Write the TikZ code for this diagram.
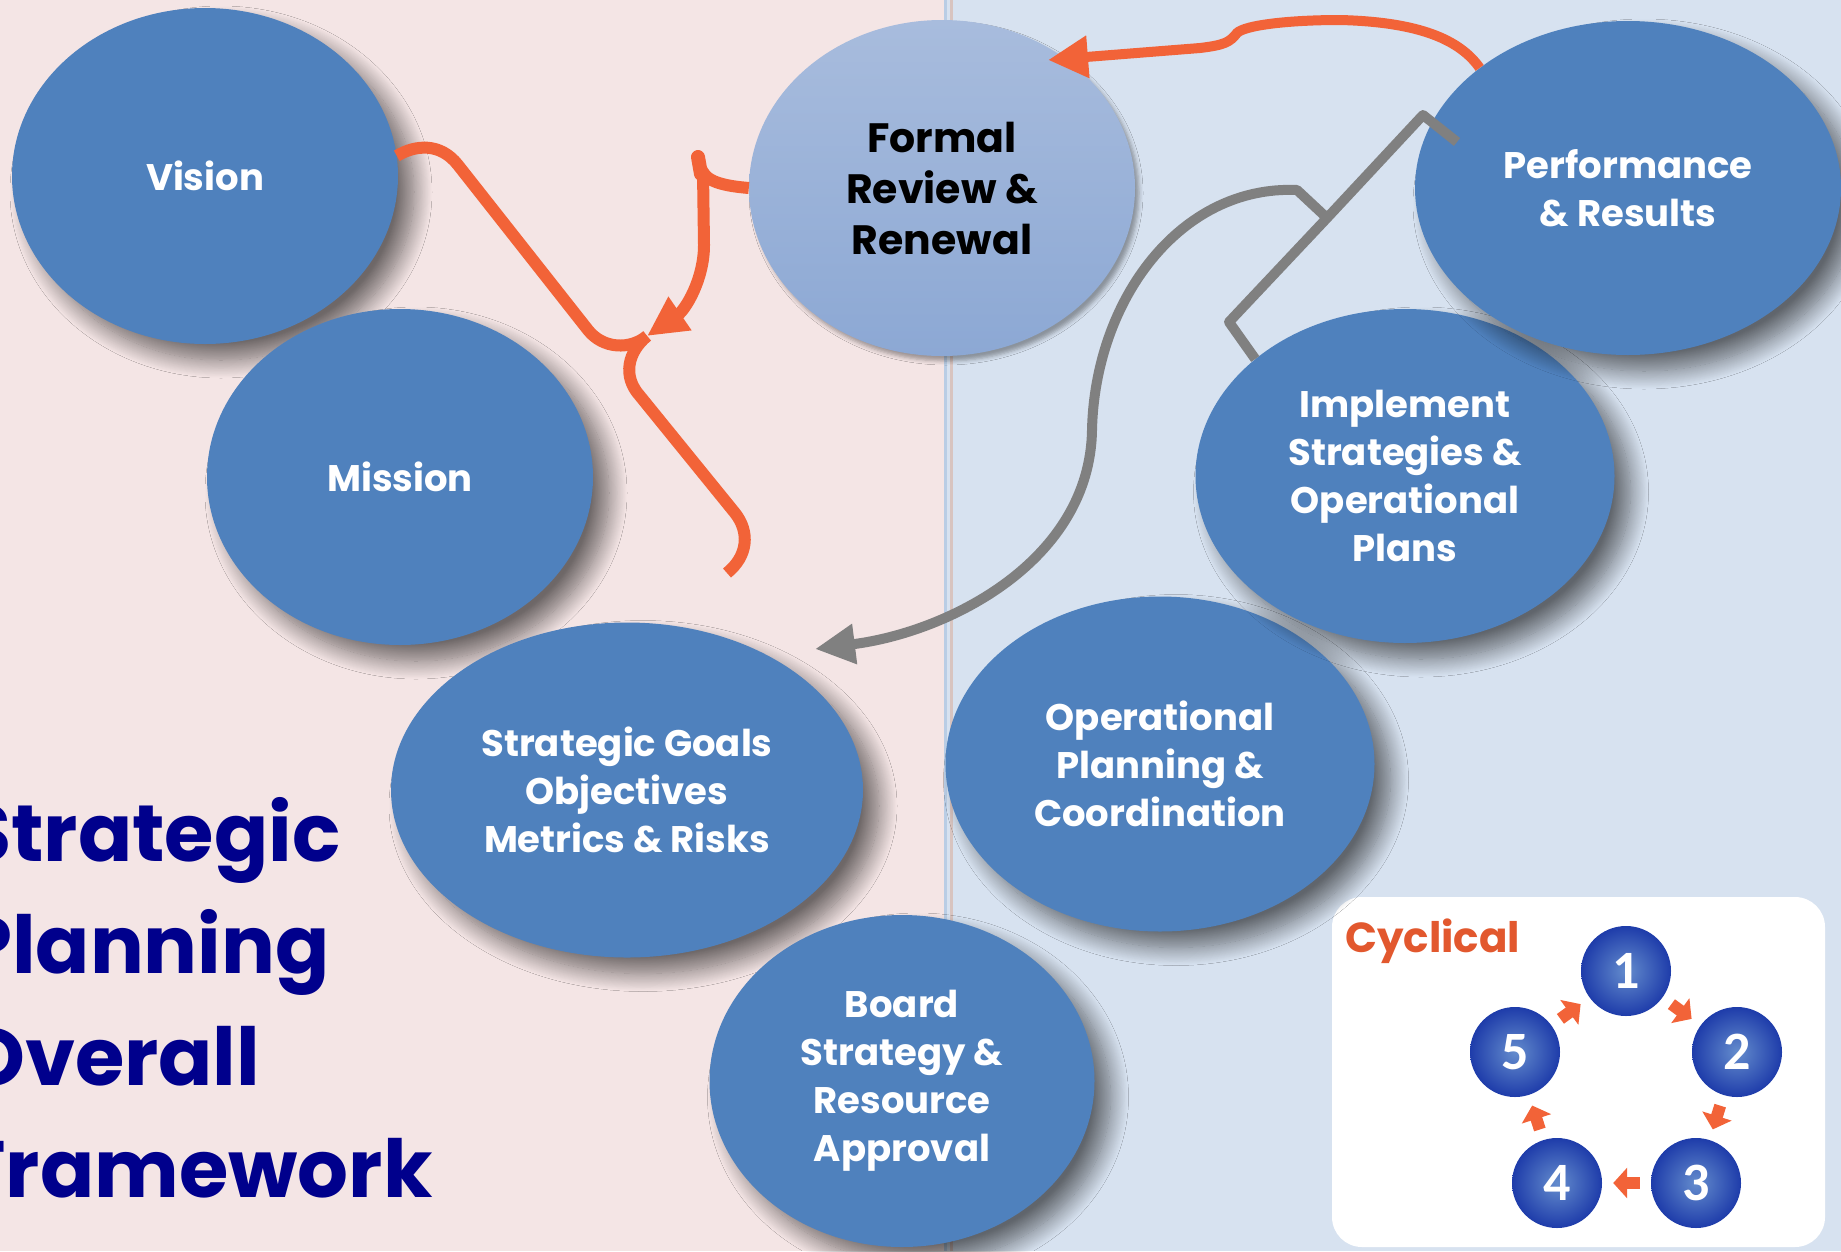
\documentclass[tikz,border=0pt]{standalone}
\usepackage{fontspec}
\newfontfamily\pop{Poppins}
\newfontfamily\carl{Carlito}
\usetikzlibrary{shapes.geometric,arrows.meta,shadows.blur,calc}
\definecolor{bgpink}{RGB}{244,229,229}
\definecolor{bgblue}{RGB}{215,226,240}
\definecolor{divblue}{RGB}{185,205,229}
\definecolor{divtan}{RGB}{216,196,192}
\definecolor{bblue}{RGB}{79,129,189}
\definecolor{fTop}{RGB}{168,188,221}
\definecolor{fBot}{RGB}{140,168,212}
\definecolor{corange}{RGB}{242,99,56}
\definecolor{cgray}{RGB}{128,128,128}
\definecolor{navy}{RGB}{0,0,140}
\definecolor{cycor}{RGB}{226,88,46}
\definecolor{ballin}{RGB}{100,140,205}
\definecolor{ballout}{RGB}{30,60,170}
\begin{document}
\begin{tikzpicture}[x=1pt,y=-1pt,
  bub/.style={ellipse, fill=bblue, text=white, inner sep=0pt, align=center,
     font=\pop\bfseries\fontsize{37}{48}\selectfont,
     blur shadow={shadow xshift=16pt, shadow yshift=-16pt, shadow blur radius=18pt, shadow blur steps=20, shadow opacity=55}},
  fbub/.style={ellipse, top color=fTop, bottom color=fBot, text=black, inner sep=0pt, align=center,
     font=\pop\bfseries\fontsize{41}{51}\selectfont,
     blur shadow={shadow xshift=4pt, shadow yshift=-5pt, shadow blur radius=4pt, shadow opacity=35}},
  ball/.style={circle, minimum size=90pt, inner sep=0pt, inner color=ballin, outer color=ballout,
     text=white, font=\carl\bfseries\fontsize{54}{54}\selectfont},
  oline/.style={draw=corange, line width=12pt},
  gline/.style={draw=cgray, line width=10pt, line join=round},
  cyc/.style={draw=corange, line width=12pt, -{Triangle[length=14pt,width=30pt]}, shorten <=11pt, shorten >=11pt}
]
\useasboundingbox (0,0) rectangle (1841,1251);
\clip (0,0) rectangle (1841,1251);
% backgrounds
\fill[bgpink] (0,0) rectangle (946,1251);
\fill[bgblue] (946,0) rectangle (1841,1251);
\draw[divblue, line width=3pt] (945,0) -- (945,1251);
\draw[divtan, line width=3pt] (951,0) -- (951,1251);

% title
\node[anchor=north west, inner sep=0pt, align=left, text=navy,
      font=\pop\bfseries\fontsize{80}{112}\selectfont] (title) at (-38,797)
      {Strategic\\Planning\\Overall\\Framework};

% cyclical inset box
\fill[white, rounded corners=30pt] (1332,897) rectangle (1825,1247);

% bubbles
\node[bub, minimum width=386pt, minimum height=336pt] (vision) at (205,176) {Vision};
\node[bub, minimum width=386pt, minimum height=336pt] (mission) at (400,477) {Mission};
\node[bub, minimum width=472pt, minimum height=335pt] (strat) at (627,790) {Strategic Goals\\Objectives\\Metrics \& Risks};
\node[bub, minimum width=385pt, minimum height=332pt] (board) at (902,1081) {Board\\Strategy \&\\Resource\\Approval};
\node[bub, minimum width=429pt, minimum height=335pt] (oper) at (1160,764) {Operational\\Planning \&\\Coordination};
\node[bub, minimum width=419pt, minimum height=334pt] (impl) at (1405,476) {Implement\\Strategies \&\\Operational\\Plans};
\node[bub, minimum width=426pt, minimum height=334pt] (perf) at (1628,188) {Performance\\\& Results};
\node[fbub, minimum width=386pt, minimum height=336pt] (formal) at (942,188) {Formal\\Review \&\\Renewal};

% orange connectors (left)
\coordinate (oj) at (647,336);
\coordinate (oend) at (727,573);
\draw[oline] (vision.6) .. controls (415,145) and (440,142) .. (458,165) -- (588,330)
   .. controls (603,349) and (630,350) .. (oj);
\draw[oline] (oj) .. controls (628,352) and (622,376) .. (640,396) -- (735,513)
   .. controls (750,532) and (748,556) .. (oend);
\draw[oline, line width=14pt, line cap=round] (698,157) -- (701,174);
\draw[oline, -{Triangle[length=40pt,width=38pt]}] (formal.west) .. controls (725,186) and (708,182) .. (703,172)
   -- (704,245) .. controls (704,280) and (685,310) .. (oj);

% orange connector (top)
\draw[draw=corange, line width=10pt, -{Triangle[length=40pt,width=40pt]}] (perf.141)
   .. controls (1460,40) and (1420,22) .. (1340,20)
   .. controls (1290,20) and (1245,25) .. (1237,33)
   .. controls (1230,42) and (1225,45) .. (1200,48)
   -- ($(formal.center)+(106,-128)$);

% gray connectors
\coordinate (gj) at (1327,218);
\draw[gline] ($(perf.center)+(-171,-46)$) -- (1423,115) -- (gj) -- (1229,322) -- (impl.142);
\draw[gline, -{Triangle[length=40pt,width=38pt]}] (gj) -- (1297,190)
   .. controls (1180,185) and (1095,300) .. (1092,430)
   .. controls (1090,560) and (950,632) .. ($(strat.center)+(188,-141)$);

% cyclical inset
\node[anchor=base west, inner sep=0pt, text=cycor, font=\pop\bfseries\fontsize{42}{50}\selectfont] (cyclab) at (1345,952) {Cyclical};
\node[ball] (c1) at (1626,971) {1};
\node[ball] (c2) at (1737,1052) {2};
\node[ball] (c3) at (1696,1183) {3};
\node[ball] (c4) at (1557,1183) {4};
\node[ball] (c5) at (1515,1052) {5};
\draw[cyc] (c1) -- (c2);
\draw[cyc] (c2) -- (c3);
\draw[cyc] (c3) -- (c4);
\draw[cyc] (c4) -- (c5);
\draw[cyc] (c5) -- (c1);
\end{tikzpicture}
\end{document}
